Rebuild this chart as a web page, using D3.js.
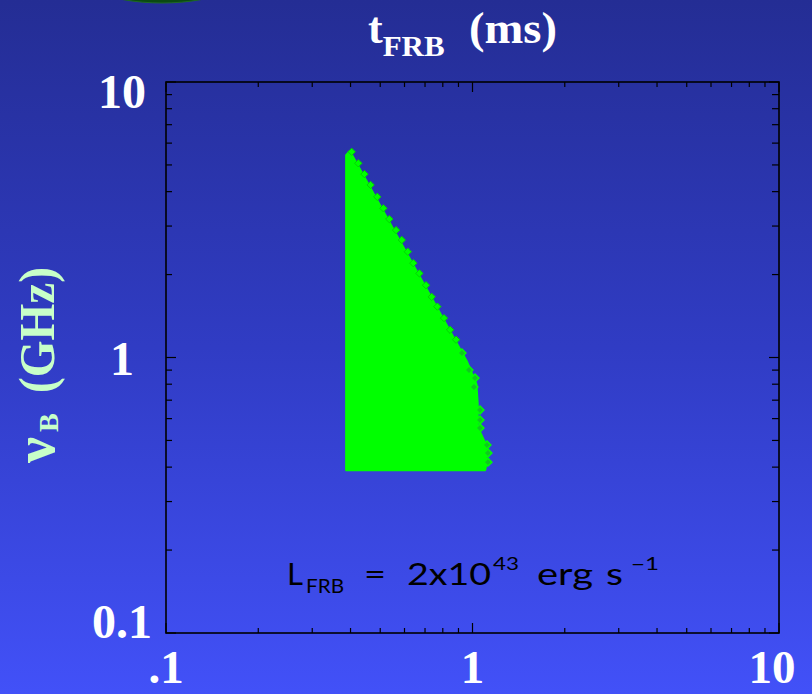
<!DOCTYPE html>
<html><head><meta charset="utf-8">
<script src="https://cdn.jsdelivr.net/npm/d3@7"></script>
<style>html,body{margin:0;padding:0;overflow:hidden;background:#2f3cc0}</style>
</head><body><svg id="chart" width="812" height="694"></svg>
<script>
// ---- data ----
const xMajorTicks = [0.1, 1, 10];
const xTickLabels = [".1", "1", "10"];
const yMajorTicks = [0.1, 1, 10];
const yTickLabels = ["0.1", "1", "10"];
// allowed-region boundary (t_FRB in ms, nu_B in GHz)
const regionT  = [0.387, 0.387, 0.398, 0.414, 0.960, 1.030, 1.040, 1.040, 1.100, 1.110, 1.100];
const regionNu = [0.39,  5.43,  5.62,  5.19,  0.965, 0.80,  0.68,  0.56,  0.49,  0.41,  0.39];
// diamond markers forming the stepped upper edge
const stepT  = [0.4035, 0.424, 0.444, 0.465, 0.489, 0.512, 0.535, 0.563, 0.588, 0.615, 0.641, 0.671, 0.705, 0.736, 0.768, 0.807, 0.845, 0.884];
const stepNu = [5.58,   5.07,  4.63,  4.23,  3.83,  3.48,  3.18,  2.90,  2.67,  2.42,  2.20,  2.02,  1.83,  1.66,  1.53,  1.39,  1.26,  1.16];
// outermost (sparse) diamond markers along the right edge
const edgeT  = [0.924, 0.974, 1.019, 1.011, 1.058, 1.058, 1.058, 1.115, 1.123, 1.123];
const edgeNu = [1.038, 0.901, 0.843, 0.782, 0.645, 0.593, 0.555, 0.481, 0.450, 0.417];
const annotation = {L: "2x10", exp: "43"};

// ---- layout ----
const W = 812, H = 694;
const L = 166, R = 779, T = 82, B = 633;
const svg = d3.select("#chart");
const x = d3.scaleLog().domain([0.1, 10]).range([L, R]);
const y = d3.scaleLog().domain([0.1, 10]).range([B, T]);

const defs = svg.append("defs");
const grad = defs.append("linearGradient").attr("id", "bg")
  .attr("x1", 0).attr("y1", 0).attr("x2", 0).attr("y2", 1);
grad.append("stop").attr("offset", "0%").attr("stop-color", "rgb(36,45,148)");
grad.append("stop").attr("offset", "50%").attr("stop-color", "rgb(48,60,196)");
grad.append("stop").attr("offset", "100%").attr("stop-color", "rgb(66,81,248)");
svg.append("rect").attr("width", W).attr("height", H).attr("fill", "url(#bg)");

// decorative dark-green blob at the top edge
svg.append("ellipse").attr("cx", 162).attr("cy", -40).attr("rx", 100).attr("ry", 43)
  .attr("fill", "#0b4a12").attr("stroke", "#1f6a24").attr("stroke-width", 1);

// ---- region ----
const pts = regionT.map((t, i) => [x(t), y(regionNu[i])]);
svg.append("path")
  .attr("d", d3.line()(pts) + "Z")
  .attr("fill", "#00ff00").attr("stroke", "#00ff00").attr("stroke-width", 2)
  .attr("stroke-linejoin", "round");
const stepDiamond = d3.symbol().type(d3.symbolDiamond2).size(34);
svg.selectAll(".step").data(stepT).join("path")
  .attr("transform", (d, i) => `translate(${x(d)},${y(stepNu[i])})`)
  .attr("d", stepDiamond).attr("fill", "#00ff00").attr("stroke", "#00d400").attr("stroke-width", 1);
const diamond = d3.symbol().type(d3.symbolDiamond2).size(40);
svg.selectAll(".edge").data(edgeT).join("path")
  .attr("transform", (d, i) => `translate(${x(d)},${y(edgeNu[i])})`)
  .attr("d", diamond).attr("fill", "#10c820").attr("stroke", "#00ff00").attr("stroke-width", 1.4);

// ---- frame & ticks ----
const g = svg.append("g").attr("stroke", "#000");
g.append("rect").attr("x", L).attr("y", T).attr("width", R - L).attr("height", B - T)
  .attr("fill", "none").attr("stroke-width", 1.6);
const ticks = x.ticks();
const isMajor = v => xMajorTicks.some(m => Math.abs(Math.log10(v / m)) < 1e-6);
ticks.forEach(v => {
  const mj = isMajor(v);
  const xv = x(v), yv = y(v);
  g.append("line").attr("x1", xv).attr("x2", xv).attr("y1", B).attr("y2", B - (mj ? 10 : 5)).attr("stroke-width", 1.2);
  g.append("line").attr("x1", xv).attr("x2", xv).attr("y1", T).attr("y2", T + (mj ? 10 : 5)).attr("stroke-width", 1.2);
  g.append("line").attr("y1", yv).attr("y2", yv).attr("x1", L).attr("x2", L + (mj ? 10 : 6)).attr("stroke-width", 1.2);
  g.append("line").attr("y1", yv).attr("y2", yv).attr("x1", R).attr("x2", R - (mj ? 10 : 7)).attr("stroke-width", 1.2);
});

// ---- tick labels ----
const serif = "'Liberation Serif','Times New Roman',serif";
svg.selectAll(".xl").data(xMajorTicks).join("text")
  .attr("x", d => Math.min(x(d), R - 7)).attr("y", 683)
  .attr("text-anchor", "middle").attr("font-family", serif).attr("font-weight", "bold")
  .attr("font-size", 47).attr("fill", "#fff").text((d, i) => xTickLabels[i]);
svg.selectAll(".yl").data(yMajorTicks).join("text")
  .attr("x", 122).attr("y", d => Math.max(T + 26, Math.min(B + 5, y(d) + 17)))
  .attr("text-anchor", "middle").attr("font-family", serif).attr("font-weight", "bold")
  .attr("font-size", 48).attr("fill", "#fff").text((d, i) => yTickLabels[i]);

// ---- axis titles ----
const SG = "spacingAndGlyphs";
const title = svg.append("text").attr("x", 368).attr("y", 43)
  .attr("font-family", serif).attr("font-weight", "bold").attr("fill", "#fff").attr("font-size", 44);
title.append("tspan").text("t");
title.append("tspan").attr("font-size", 29).attr("dy", 13).attr("textLength", 62).attr("lengthAdjust", SG).text("FRB");
title.append("tspan").attr("dy", -13).attr("x", 469).attr("textLength", 88).attr("lengthAdjust", SG).text("(ms)");

const ylab = svg.append("text").attr("transform", "translate(54,463) rotate(-90)")
  .attr("font-family", serif).attr("font-weight", "bold").attr("fill", "#c8ffc8").attr("font-size", 50);
ylab.append("tspan").attr("x", 0).attr("font-size", 58).text("ν");
ylab.append("tspan").attr("x", 31).attr("dy", 4).attr("font-size", 28).text("B");
ylab.append("tspan").attr("x", 70).attr("dy", -4).attr("textLength", 126).attr("lengthAdjust", SG).text("(GHz)");

// ---- annotation ----
const sans = "Lato,'Liberation Sans',Arial,sans-serif";
const ann = svg.append("text").attr("y", 585).attr("font-family", sans).attr("font-weight", 400)
  .attr("fill", "#000").attr("font-size", 30);
const seg = (txt, xx, yy, fs, len) => {
  const s = ann.append("tspan").attr("x", xx).attr("y", yy).attr("font-size", fs).text(txt);
  if (len) s.attr("textLength", len).attr("lengthAdjust", SG);
};
seg("L", 287, 585, 30, 16);
seg("FRB", 306, 593, 19, 38);
seg("=", 364, 585, 30, 22);
seg(annotation.L, 407, 585, 30, 84);
seg(annotation.exp, 493, 570, 17, 26);
seg("erg", 537, 585, 30, 56);
seg("s", 606, 585, 30, 17);
seg("\u22121", 631, 570, 17, 28);
</script></body></html>
